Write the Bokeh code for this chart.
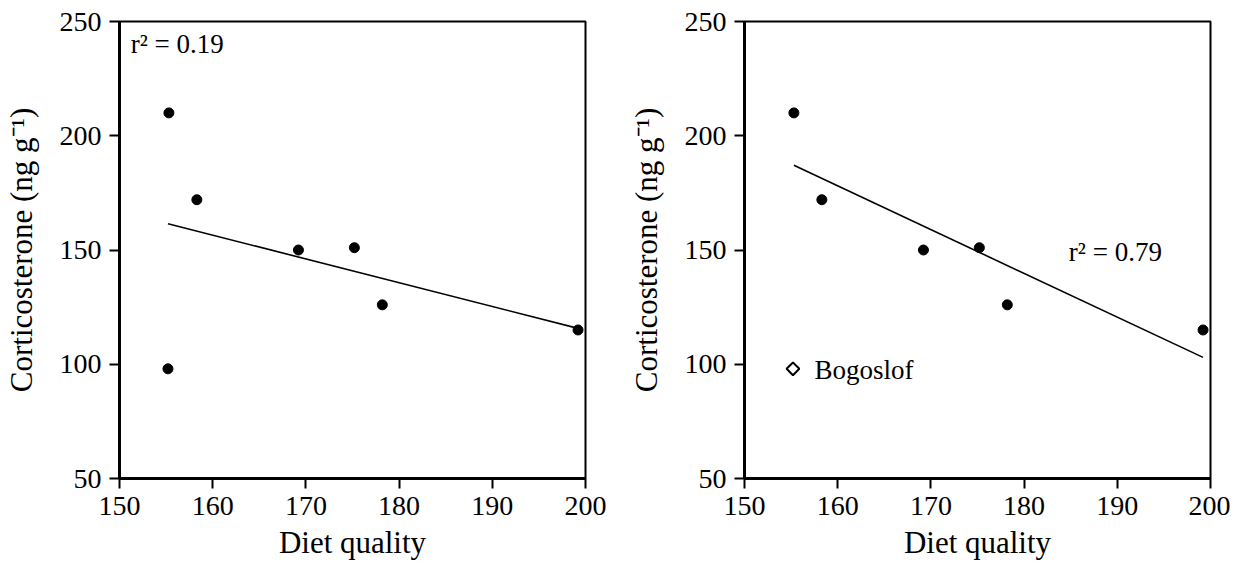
import numpy as np
from bokeh.plotting import figure
from bokeh.layouts import row
from bokeh.models import Label, FixedTicker, Range1d
from bokeh.embed import file_html
from bokeh.resources import INLINE

# ---- data ----
diet = [155.3, 158.3, 169.2, 175.2, 178.2, 199.2]
cort = [210, 172, 150, 151, 126, 115]
bogoslof_diet = [155.2]
bogoslof_cort = [98]
x_ticks = [150, 160, 170, 180, 190, 200]
y_ticks = [50, 100, 150, 200, 250]
r2_all = "r\u00b2 = 0.19"
r2_excl = "r\u00b2 = 0.79"
x_label = "Diet quality"
y_label = "Corticosterone (ng g\u207b\u00b9)"

FONT = "Liberation Serif"


def make_fig(border_right):
    p = figure(width=118 + 467 + border_right, height=21 + 460 + 81,
               x_range=Range1d(150, 200), y_range=Range1d(50, 250),
               output_backend="svg", toolbar_location=None,
               min_border_left=118, min_border_right=border_right,
               min_border_top=21, min_border_bottom=81)
    p.grid.visible = False
    p.outline_line_color = "black"
    p.outline_line_width = 2
    p.outline_line_alpha = 1
    p.background_fill_color = "white"
    p.border_fill_color = "white"
    for ax in (p.xaxis[0], p.yaxis[0]):
        ax.axis_line_width = 3
        ax.axis_line_color = "black"
        ax.major_tick_line_width = 2
        ax.major_tick_line_color = "black"
        ax.major_tick_out = 10
        ax.major_tick_in = 0
        ax.minor_tick_line_color = None
        ax.major_label_text_font = FONT
        ax.major_label_text_font_size = "28px"
        ax.major_label_text_color = "black"
        ax.axis_label_text_font = FONT
        ax.axis_label_text_font_size = "31px"
        ax.axis_label_text_font_style = "normal"
        ax.axis_label_text_color = "black"
    p.xaxis.ticker = FixedTicker(ticks=x_ticks)
    p.yaxis.ticker = FixedTicker(ticks=y_ticks)
    p.xaxis.axis_label = x_label
    p.yaxis.axis_label = y_label
    p.xaxis.major_label_standoff = 8
    p.xaxis.axis_label_standoff = 7
    p.yaxis.major_label_standoff = 8
    p.yaxis.axis_label_standoff = 18
    return p


# ---- left panel: all sites ----
all_x = np.array(diet + bogoslof_diet)
all_y = np.array(cort + bogoslof_cort)
k1, b1 = np.polyfit(all_x, all_y, 1)
xl1 = np.array([all_x.min(), all_x.max()])

p1 = make_fig(40)
p1.line(xl1, k1 * xl1 + b1, line_color="black", line_width=1.6)
p1.scatter(all_x, all_y, marker="circle", size=10, fill_color="black", line_color="black")
p1.add_layout(Label(x=151.2, y=240, text=r2_all, text_font=FONT, text_font_size="27px",
                    text_color="black", text_baseline="middle", text_align="left"))

# ---- right panel: Bogoslof excluded from fit ----
ex_x = np.array(diet)
ex_y = np.array(cort)
k2, b2 = np.polyfit(ex_x, ex_y, 1)
xl2 = np.array([ex_x.min(), ex_x.max()])

p2 = make_fig(20)
p2.line(xl2, k2 * xl2 + b2, line_color="black", line_width=1.6)
p2.scatter(ex_x, ex_y, marker="circle", size=10, fill_color="black", line_color="black")
p2.scatter(bogoslof_diet, bogoslof_cort, marker="square", angle=np.pi / 4, size=9,
           fill_color="white", line_color="black", line_width=2)
p2.add_layout(Label(x=184.8, y=149, text=r2_excl, text_font=FONT, text_font_size="27px",
                    text_color="black", text_baseline="middle", text_align="left"))
p2.add_layout(Label(x=157.5, y=97.5, text="Bogoslof", text_font=FONT, text_font_size="27px",
                    text_color="black", text_baseline="middle", text_align="left"))

layout = row(p1, p2)
open("out.html", "w").write(file_html(layout, INLINE))
